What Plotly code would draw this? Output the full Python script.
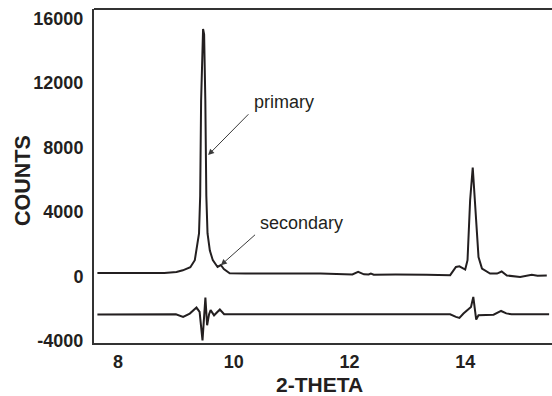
import plotly.graph_objects as go

# Observed pattern (top curve)
obs_x = [7.644, 8.0, 8.5, 8.8, 9.01, 9.12, 9.25, 9.327, 9.40, 9.42, 9.436, 9.457, 9.47, 9.488,
         9.509, 9.526, 9.547, 9.587, 9.638, 9.72, 9.777, 9.829, 9.93, 10.2, 10.8, 11.5, 12.05,
         12.15, 12.25, 12.33, 12.37, 12.42, 12.8, 13.2, 13.27, 13.33, 13.74, 13.84, 13.90, 14.00,
         14.04, 14.085, 14.13, 14.17, 14.23, 14.29, 14.43, 14.55, 14.63, 14.72, 14.95, 15.15,
         15.25, 15.41]
obs_y = [210, 205, 200, 210, 270, 370, 560, 1000, 2660, 5000, 10900, 15000, 15340, 15000,
         10900, 5000, 2660, 1600, 1000, 580, 700, 450, 190, 180, 175, 170, 110,
         270, 120, 110, 170, 100, 110, 120, 130, 100, 70, 580, 620, 420,
         1000, 4720, 6750, 4300, 1200, 480, 170, 170, 300, 50, -40, 90,
         40, 50]

# Difference curve (bottom)
diff_x = [7.644, 8.5, 9.0, 9.125, 9.24, 9.356, 9.41, 9.46, 9.488, 9.51, 9.54, 9.574, 9.60,
          9.66, 9.76, 9.834, 10.5, 11.5, 12.5, 13.5, 13.74, 13.84, 13.90, 13.97, 14.055,
          14.10, 14.14, 14.19, 14.23, 14.37, 14.49, 14.62, 14.71, 14.8, 15.45]
diff_y = [-2370, -2360, -2360, -2520, -2310, -1940, -2210, -3970, -2600, -1320, -3040, -2350,
          -2100, -2420, -2060, -2350, -2360, -2360, -2360, -2360, -2360, -2520, -2580, -2310,
          -2060, -1900, -1280, -2680, -2420, -2380, -2380, -2150, -2300, -2350, -2350]

x_ticks = [8, 10, 12, 14]
y_ticks = [-4000, 0, 4000, 8000, 12000, 16000]

# annotation labels: (label, head x, head y, tail x, tail y, text x, text y)
labels = ["primary", "secondary"]
head_x = [9.557, 9.777]
head_y = [7517, 689]
tail_x = [10.279, 10.394]
tail_y = [10143, 2657]
text_x = [10.872, 11.173]
text_y = [10826, 3315]

INK = "#231f20"
FONT = "Liberation Sans, Arial, sans-serif"

fig = go.Figure()
fig.add_trace(go.Scatter(x=obs_x, y=obs_y, mode="lines",
                         line=dict(color=INK, width=2), showlegend=False))
fig.add_trace(go.Scatter(x=diff_x, y=diff_y, mode="lines",
                         line=dict(color=INK, width=2), showlegend=False))

annotations = []
for lab, hx, hy, tx, ty, lx, ly in zip(labels, head_x, head_y, tail_x, tail_y, text_x, text_y):
    annotations.append(dict(x=hx, y=hy, ax=tx, ay=ty, xref="x", yref="y", axref="x", ayref="y",
                            text="", showarrow=True, arrowhead=2, arrowsize=1.2, arrowwidth=1,
                            arrowcolor="#3a3a3a"))
    annotations.append(dict(x=lx, y=ly, xref="x", yref="y", text=lab, showarrow=False,
                            font=dict(family=FONT, size=18, color=INK),
                            xanchor="center", yanchor="middle"))

annotations.append(dict(x=0, y=0.485, xref="paper", yref="paper", xshift=-71, text="COUNTS",
                        textangle=-90, showarrow=False,
                        font=dict(family=FONT, size=21.5, color=INK, weight="bold"),
                        xanchor="center", yanchor="middle"))
annotations.append(dict(x=0.493, y=0, xref="paper", yref="paper", yshift=-41, text="2-THETA",
                        showarrow=False,
                        font=dict(family=FONT, size=21, color=INK, weight="bold"),
                        xanchor="center", yanchor="middle"))

fig.update_layout(
    width=552, height=396,
    margin=dict(l=94, r=0, t=9, b=53, autoexpand=False),
    paper_bgcolor="white", plot_bgcolor="white",
    annotations=annotations,
    shapes=[dict(type="line", xref="paper", yref="paper", x0=0, x1=1, y0=1, y1=1,
                 line=dict(color="#333333", width=2))],
    xaxis=dict(range=[7.585, 15.50], tickvals=x_ticks, ticktext=[str(v) for v in x_ticks],
               showgrid=False, zeroline=False, showline=True, linecolor="#333333", linewidth=2,
               ticks="", ticklabelstandoff=1,
               tickfont=dict(family=FONT, size=18, color=INK, weight="bold")),
    yaxis=dict(range=[-4137, 16580], tickvals=y_ticks, ticktext=[str(v) for v in y_ticks],
               showgrid=False, zeroline=False, showline=True, linecolor="#333333", linewidth=2,
               ticks="", ticklabelstandoff=5,
               tickfont=dict(family=FONT, size=18, color=INK, weight="bold")),
)

fig.write_html("out.html", config={"displayModeBar": False},
               post_script="document.body.style.margin='0';")
